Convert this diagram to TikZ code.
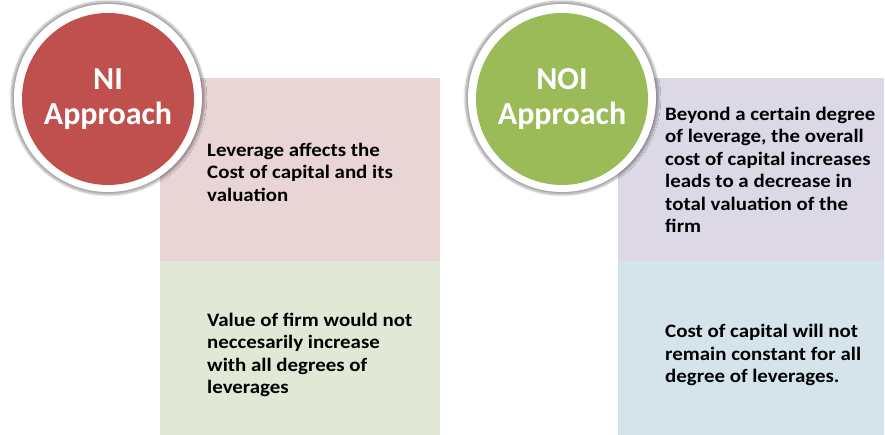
\documentclass[tikz,border=0pt]{standalone}
\usepackage{fontspec}
\setmainfont{Carlito}
\newfontfamily\widefont[FakeStretch=1.1]{Carlito}
\usetikzlibrary{shadows,shadows.blur}
\definecolor{nired}{RGB}{192,80,77}
\definecolor{noigreen}{RGB}{155,187,89}
\definecolor{boxpink}{RGB}{233,213,213}
\definecolor{boxgreen}{RGB}{225,232,213}
\definecolor{boxpurple}{RGB}{220,216,229}
\definecolor{boxblue}{RGB}{213,227,235}
\tikzset{
  panel/.style={draw=none, minimum width=#1, minimum height=175pt, inner sep=0pt, anchor=north west},
  ring/.style={circle, fill=white, minimum size=188pt, inner sep=0pt,
    blur shadow={shadow blur steps=8, shadow xshift=0pt, shadow yshift=0pt, shadow scale=1.03, shadow opacity=35}},
  disc/.style={circle, minimum size=172pt, inner sep=0pt, text=white,
    font=\bfseries\fontsize{32}{35}\selectfont, align=center},
  bodytext/.style={anchor=west, align=left, inner sep=0pt,
    font=\widefont\bfseries\fontsize{19}{22.5}\selectfont, text=black}
}
\begin{document}
\begin{tikzpicture}[x=1pt,y=-1pt]
\useasboundingbox (0,0) rectangle (885,435);
% panels
\node[panel=280pt, minimum height=183pt, fill=boxpink] (b1) at (160,78) {};
\node[panel=280pt, minimum height=174pt, fill=boxgreen] (b2) at (160,261) {};
\node[panel=266pt, minimum height=183pt, fill=boxpurple] (b3) at (618,78) {};
\node[panel=266pt, minimum height=174pt, fill=boxblue] (b4) at (618,261) {};
% circles
\node[ring] (niring) at (108,98) {};
\node[disc, fill=nired] (ni) at (108,99) {NI\\Approach};
\node[ring] (noiring) at (562,98) {};
\node[disc, fill=noigreen] (noi) at (562,99) {NOI\\Approach};
% texts
\node[bodytext] (t1) at (207,172) {Leverage affects the\\Cost of capital and its\\valuation};
\node[bodytext] (t2) at (207,355) {Value of firm would not\\neccesarily increase\\with all degrees of\\leverages};
\node[bodytext] (t3) at (665,170) {Beyond a certain degree\\of leverage, the overall\\cost of capital increases\\leads to a decrease in\\total valuation of the\\firm};
\node[bodytext] (t4) at (665,355) {Cost of capital will not\\remain constant for all\\degree of leverages.};
\end{tikzpicture}
\end{document}
